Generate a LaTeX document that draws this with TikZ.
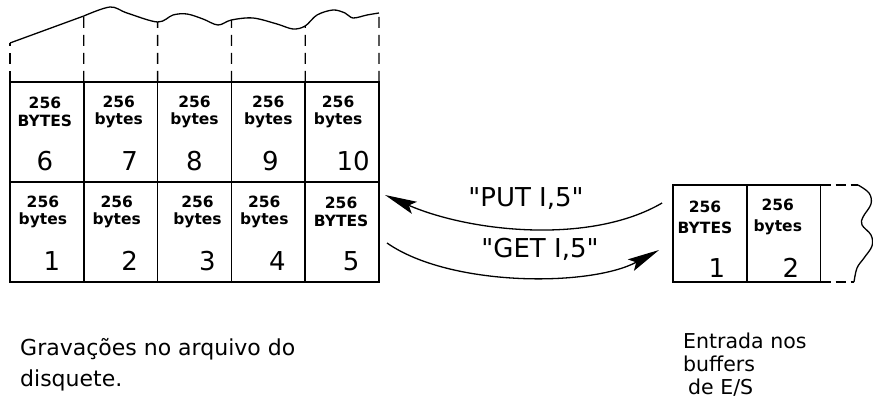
\documentclass[tikz,border=0pt]{standalone}
\usepackage{fontspec}
\setmainfont{DejaVu Sans}
\newfontfamily\retafont{DejaVu Sans}
\usetikzlibrary{positioning}
\usetikzlibrary{arrows.meta}

\begin{document}
\begin{tikzpicture}[x=1pt, y=1pt,
    celula/.style={draw, line width=1.5pt, minimum width=73.8pt, minimum height=100pt, inner sep=0pt, outer sep=0pt},
    celulab/.style={celula, minimum height=97pt},
    rotulo/.style={align=center, inner sep=0pt, font=\bfseries\fontsize{15.5}{17.5}\selectfont},
    rotulob/.style={rotulo, font=\bfseries\fontsize{15.5}{21}\selectfont},
    numero/.style={inner sep=0pt, font=\fontsize{26}{26}\selectfont},
    corte/.style={line width=1.3pt, dash pattern=on 11pt off 7pt},
    borda/.style={line width=1.3pt},
    seta/.style={line width=1.3pt, -{Stealth[length=32pt, width=13pt, inset=6pt]}},
    comando/.style={inner sep=0pt, font=\retafont\fontsize{26}{26}\selectfont},
    legenda/.style={align=left, inner sep=0pt, anchor=west}]

    \useasboundingbox (0,0) rectangle (873,401);

    % arquivo do disquete
    \node[celula] (c1) at (46.9,169) {};
    \node[celula, right=0pt of c1] (c2) {};
    \node[celula, right=0pt of c2] (c3) {};
    \node[celula, right=0pt of c3] (c4) {};
    \node[celula, right=0pt of c4] (c5) {};
    \node[celula, above=0pt of c1] (c6) {};
    \node[celula, right=0pt of c6] (c7) {};
    \node[celula, right=0pt of c7] (c8) {};
    \node[celula, right=0pt of c8] (c9) {};
    \node[celula, right=0pt of c9] (c10) {};

    \node[rotulo] (t1) at ([xshift=-4pt, yshift=-30pt]c1.north) {256\\bytes};
    \node[rotulo] (t2) at ([xshift=-4pt, yshift=-30pt]c2.north) {256\\bytes};
    \node[rotulo] (t3) at ([xshift=3pt, yshift=-30pt]c3.north) {256\\bytes};
    \node[rotulo] (t4) at ([xshift=-4pt, yshift=-30pt]c4.north) {256\\bytes};
    \node[rotulo] (t5) at ([xshift=-1pt, yshift=-30pt]c5.north) {256\\BYTES};
    \node[rotulo] (t6) at ([xshift=-2pt, yshift=-30pt]c6.north) {256\\BYTES};
    \node[rotulo] (t7) at ([xshift=-2pt, yshift=-30pt]c7.north) {256\\bytes};
    \node[rotulo] (t8) at ([yshift=-30pt]c8.north) {256\\bytes};
    \node[rotulo] (t9) at ([yshift=-30pt]c9.north) {256\\bytes};
    \node[rotulo] (t10) at ([xshift=-4pt, yshift=-30pt]c10.north) {256\\bytes};

    \node[numero] (n1) at ([xshift=5pt, yshift=21pt]c1.south) {1};
    \node[numero] (n2) at ([xshift=9pt, yshift=21pt]c2.south) {2};
    \node[numero] (n3) at ([xshift=13pt, yshift=21pt]c3.south) {3};
    \node[numero] (n4) at ([xshift=9pt, yshift=21pt]c4.south) {4};
    \node[numero] (n5) at ([xshift=9pt, yshift=21pt]c5.south) {5};
    \node[numero] (n6) at ([xshift=-2pt, yshift=21pt]c6.south) {6};
    \node[numero] (n7) at ([xshift=9pt, yshift=21pt]c7.south) {7};
    \node[numero] (n8) at ([yshift=21pt]c8.south) {8};
    \node[numero] (n9) at ([xshift=2pt, yshift=21pt]c9.south) {9};
    \node[numero] (n10) at ([xshift=11pt, yshift=21pt]c10.south) {10};

    % topo rasgado
    \coordinate (w0) at (10,358);
    \coordinate (w1) at (83.8,385);
    \coordinate (w2) at (157.6,379);
    \coordinate (w3) at (231.4,381);
    \coordinate (w4) at (305.2,375);
    \coordinate (w5) at (379,388);
    \draw[borda] (w0) -- (w1);
    \draw[borda] plot[smooth, tension=0.55] coordinates {(w1) (110,394) (127,388) (w2) (173,386) (187,387) (203,382) (218,376) (w3) (253,383) (277,377) (293,372) (w4) (317,386) (333,391) (345,388) (353,383) (367,386) (w5)};
    \draw[corte] (c6.north west) -- (w0);
    \draw[corte] (c7.north west) -- (w1);
    \draw[corte] (c8.north west) -- (w2);
    \draw[corte] (c9.north west) -- (w3);
    \draw[corte] (c10.north west) -- (w4);
    \draw[corte] (c10.north east) -- (w5);

    % buffers de E/S
    \node[celulab] (b1) at (710,167.5) {};
    \node[celulab, right=0pt of b1] (b2) {};
    \node[rotulob] (u1) at ([xshift=-5pt, yshift=-32pt]b1.north) {256\\BYTES};
    \node[rotulob] (u2) at ([xshift=-6pt, yshift=-32pt]b2.north) {256\\bytes};
    \node[numero] (m1) at ([xshift=7pt, yshift=14pt]b1.south) {1};
    \node[numero] (m2) at ([xshift=7pt, yshift=14pt]b2.south) {2};

    \coordinate (r1) at (858,216);
    \coordinate (r2) at (854,119);
    \draw[corte, dash pattern=on 10pt off 5pt] (b2.north east) -- (r1);
    \draw[corte, dash pattern=on 10pt off 5pt] (b2.south east) -- (r2);
    \draw[borda] plot[smooth, tension=0.6] coordinates {(r1) (869,208) (871,197) (863,184) (862,176) (871,166) (872,155) (864,143) (857,133) (r2)};

    % comandos
    \draw[seta] ([xshift=-11pt, yshift=30.5pt]b1.west) .. controls +(-72,-42) and +(85,-37) .. ([xshift=6pt, yshift=37pt]c5.east);
    \draw[seta] ([xshift=8pt, yshift=-11pt]c5.east) .. controls +(63,-44) and +(-69,-37) .. ([xshift=-14pt, yshift=-16.5pt]b1.west);
    \node[comando] (put) at (526,202) {"PUT I,5"};
    \node[comando] (get) at (540,152) {"GET I,5"};

    % legendas
    \node[legenda, font=\fontsize{22}{31}\selectfont] (leg1) at (20,36) {Gravações no arquivo do\\disquete.};
    \node[legenda, font=\fontsize{20.5}{23}\selectfont] (leg2) at (683,36) {Entrada nos\\buffers\\\hspace*{5pt}de E/S};
\end{tikzpicture}
\end{document}
